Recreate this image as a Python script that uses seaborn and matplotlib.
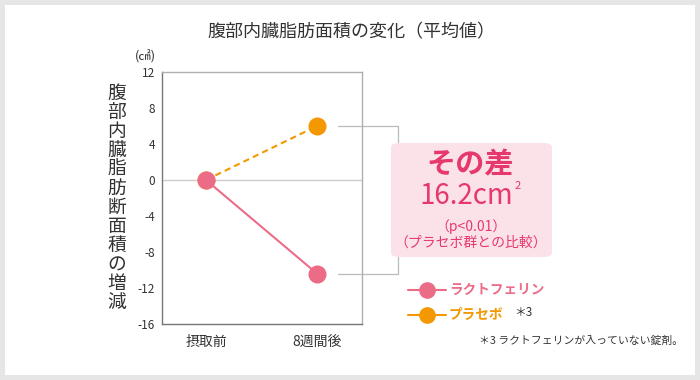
import matplotlib
matplotlib.use("Agg")
import matplotlib.pyplot as plt
import seaborn as sns
import pandas as pd
from matplotlib.patches import FancyBboxPatch, Rectangle
from matplotlib.lines import Line2D

sns.set_theme(style="white")
plt.rcParams['font.family'] = ['Noto Sans CJK JP', 'DejaVu Sans']

# ---- data ----
categories = ["摂取前", "8週間後"]
lactoferrin = [0.0, -10.4]
placebo = [0.0, 6.0]
series_names = ["ラクトフェリン", "プラセボ"]
yticks = [-16, -12, -8, -4, 0, 4, 8, 12]

PINK = "#ec6c87"
ORANGE = "#f39800"
TEXT_PINK = "#e6386c"
DARK = "#333333"

df = pd.DataFrame({
    "time": categories * 2,
    "x": [0, 1] * 2,
    "value": lactoferrin + placebo,
    "group": [series_names[0]] * 2 + [series_names[1]] * 2,
})

W, H = 700, 380
fig = plt.figure(figsize=(W / 100, H / 100), dpi=100)
fig.patch.set_facecolor("#e6e6e6")
fig.patches.append(Rectangle((5 / W, 5 / H), 690 / W, 370 / H, transform=fig.transFigure,
                             facecolor="white", edgecolor="none", zorder=-5))

def fx(px):
    return px / W

def fy(py):
    return 1 - py / H

ax = fig.add_axes([fx(162), fy(324), fx(362) - fx(162), fy(72) - fy(324)])
ax.set_facecolor("none")
ax.set_zorder(2)

ax.axhline(0, color="#cccccc", lw=1, zorder=1)

sns.lineplot(data=df[df.group == series_names[1]], x="x", y="value", ax=ax,
             color=ORANGE, lw=1.5, linestyle=(0, (3, 2)), marker="o",
             markersize=13, markeredgewidth=0, legend=False, zorder=3)
sns.lineplot(data=df[df.group == series_names[0]], x="x", y="value", ax=ax,
             color=PINK, lw=1.5, marker="o", markersize=13,
             markeredgewidth=0, legend=False, zorder=4)

ax.set_xlim(-0.396, 1.405)
ax.set_ylim(-16, 12)
ax.set_yticks(yticks)
ax.set_yticklabels([str(v) for v in yticks], fontsize=8.5, color=DARK)
ax.set_xticks([0, 1])
ax.set_xticklabels(categories, fontsize=10, color=DARK)
ax.tick_params(axis="both", length=0, pad=5)
ax.tick_params(axis="x", pad=8)
ax.set_xlabel("")
ax.set_ylabel("")
for side, sp in ax.spines.items():
    sp.set_visible(True)
    sp.set_color("#b0b0b0")
    sp.set_linewidth(1)
ax.spines["left"].set_color("#777777")
ax.spines["bottom"].set_color("#777777")

# connectors from end points to the difference box (below the box)
xc0, xc1 = 1.19, 1.73
for v in (placebo[1], lactoferrin[1]):
    fig.lines.append(Line2D([xc0, xc1], [v, v], color="#bbbbbb", lw=0.9,
                            transform=ax.transData, zorder=0.5))
fig.lines.append(Line2D([xc1, xc1], [lactoferrin[1], placebo[1]], color="#bbbbbb",
                        lw=0.9, transform=ax.transData, zorder=0.5))

# title
fig.text(fx(351), fy(32), "腹部内臓脂肪面積の変化（平均値）", ha="center", va="center",
         fontsize=13, color=DARK)
# unit
fig.text(fx(145), fy(57), "(㎠)", ha="center", va="center", fontsize=9, color=DARK)
# vertical y label (stacked characters)
ylab = "腹部内臓脂肪断面積の増減"
fig.text(fx(117), fy(198), "\n".join(ylab), ha="center", va="center",
         fontsize=13.5, color=DARK, linespacing=0.88, multialignment="center")

# difference box
box = FancyBboxPatch((fx(391), fy(257)), fx(552) - fx(391), fy(143) - fy(257),
                     boxstyle="round,pad=0,rounding_size=0.012",
                     transform=fig.transFigure, facecolor="#fbe2e8",
                     edgecolor="none", zorder=1)
fig.patches.append(box)
fig.text(fx(470), fy(164), "その差", ha="center", va="center", fontsize=21,
         fontweight="bold", color=TEXT_PINK)
fig.text(fx(466), fy(196), "16.2cm", ha="center", va="center", fontsize=20,
         color=TEXT_PINK)
fig.text(fx(515), fy(186), "2", ha="left", va="center", fontsize=8,
         color=TEXT_PINK)
fig.text(fx(471), fy(227), "（p<0.01）", ha="center", va="center", fontsize=10,
         color=TEXT_PINK)
fig.text(fx(471), fy(243), "（プラセボ群との比較）", ha="center", va="center",
         fontsize=10, color=TEXT_PINK)

# legend
for name, col, py in [(series_names[0], PINK, 290), (series_names[1], ORANGE, 315)]:
    fig.lines.append(Line2D([fx(408), fx(446)], [fy(py), fy(py)], color=col, lw=1.5,
                            transform=fig.transFigure))
    fig.lines.append(Line2D([fx(427)], [fy(py)], color=col, marker="o", markersize=12,
                            markeredgewidth=0, transform=fig.transFigure))
    fig.text(fx(449), fy(py), name, ha="left", va="center", fontsize=9.8,
             fontweight="bold", color=col)
fig.text(fx(514), fy(312), "＊3", ha="left", va="center", fontsize=8.5, color=DARK)
fig.text(fx(479), fy(341), "＊3 ラクトフェリンが入っていない錠剤。", ha="left", va="center",
         fontsize=7.8, color=DARK)

fig.savefig("out.png", dpi=100, facecolor=fig.get_facecolor())
